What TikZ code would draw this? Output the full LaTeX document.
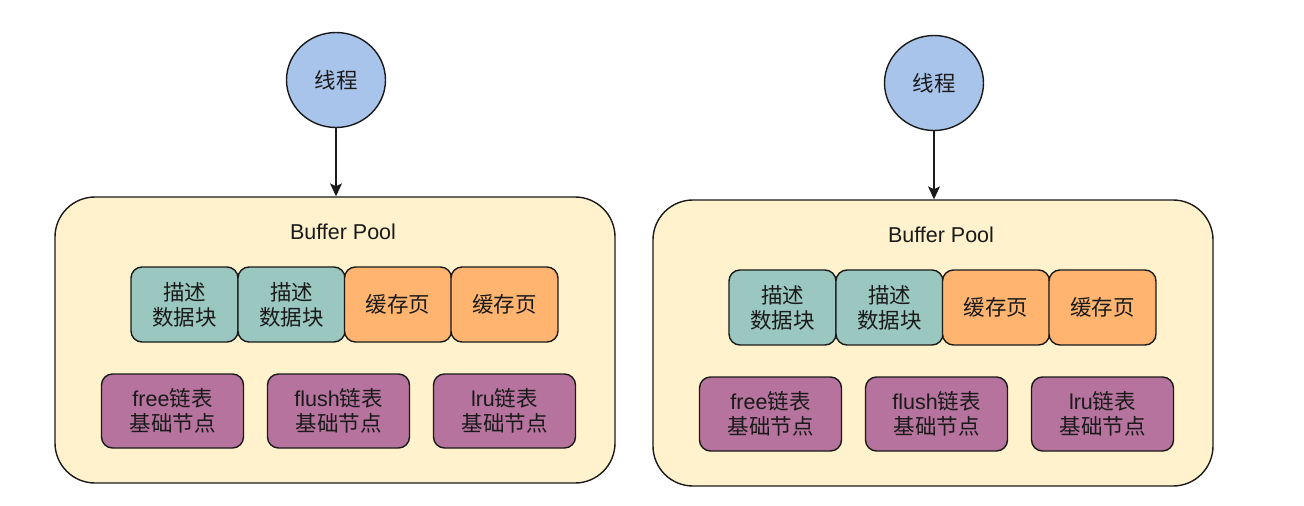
\documentclass[tikz,border=0pt]{standalone}
\usepackage{fontspec}
\setmainfont{Noto Sans CJK SC}
\newfontfamily\latin{Liberation Sans}
\usetikzlibrary{shapes.geometric,arrows.meta}
\definecolor{threadblue}{HTML}{A9C4EB}
\definecolor{poolfill}{HTML}{FFF2CC}
\definecolor{descfill}{HTML}{9AC7BF}
\definecolor{pagefill}{HTML}{FFB570}
\definecolor{listfill}{HTML}{B5739D}
\definecolor{ink}{HTML}{1A1A1A}
\tikzset{
  every node/.style={text=ink, font=\fontsize{21.5}{25}\selectfont},
  thread/.style={ellipse, draw=ink, line width=1.4pt, fill=threadblue,
    minimum width=99pt, minimum height=95pt, inner sep=0pt},
  pool/.style={draw=ink, line width=1.4pt, fill=poolfill, rounded corners=40pt,
    minimum width=560pt, minimum height=286pt},
  cell/.style={draw=ink, line width=1.4pt, rounded corners=11pt, align=center,
    minimum width=107pt, minimum height=75pt, inner sep=0pt},
  desc/.style={cell, fill=descfill},
  page/.style={cell, fill=pagefill},
  listnode/.style={cell, fill=listfill, minimum width=142pt, minimum height=74pt},
  feed/.style={draw=ink, line width=1.2pt, -{Stealth[length=13pt,width=12pt,inset=3pt]}}
}
\begin{document}
\begin{tikzpicture}[x=1pt,y=-1pt]
\useasboundingbox[fill=white] (0,0) rectangle (1304,506);
\foreach \p/\dx/\dy in {L/0/0, R/598/3}{
  \begin{scope}[shift={(\dx,\dy)}]
    % thread and the buffer pool it reads from
    \node[pool] (\p pool) at (335,340) {};
    \node[font=\latin\fontsize{21.5}{25}\selectfont] (\p title) at (343,232) {Buffer Pool};
    \node[thread] (\p thread) at (336,80) {线程};
    \draw[feed] (\p thread.south) -- (\p thread.south |- \p pool.north);
    % description blocks and cache pages
    \node[desc] (\p d1) at (184.5,304.5) {描述\\数据块};
    \node[desc] (\p d2) at (291.5,304.5) {描述\\数据块};
    \node[page] (\p c1) at (398,304.5) {缓存页};
    \node[page] (\p c2) at (504.5,304.5) {缓存页};
    % list base nodes
    \node[listnode] (\p free) at (172.5,411) {{\latin free}链表\\基础节点};
    \node[listnode] (\p flush) at (338.5,411) {{\latin flush}链表\\基础节点};
    \node[listnode] (\p lru) at (504.5,411) {{\latin lru}链表\\基础节点};
  \end{scope}
}
\end{tikzpicture}
\end{document}
